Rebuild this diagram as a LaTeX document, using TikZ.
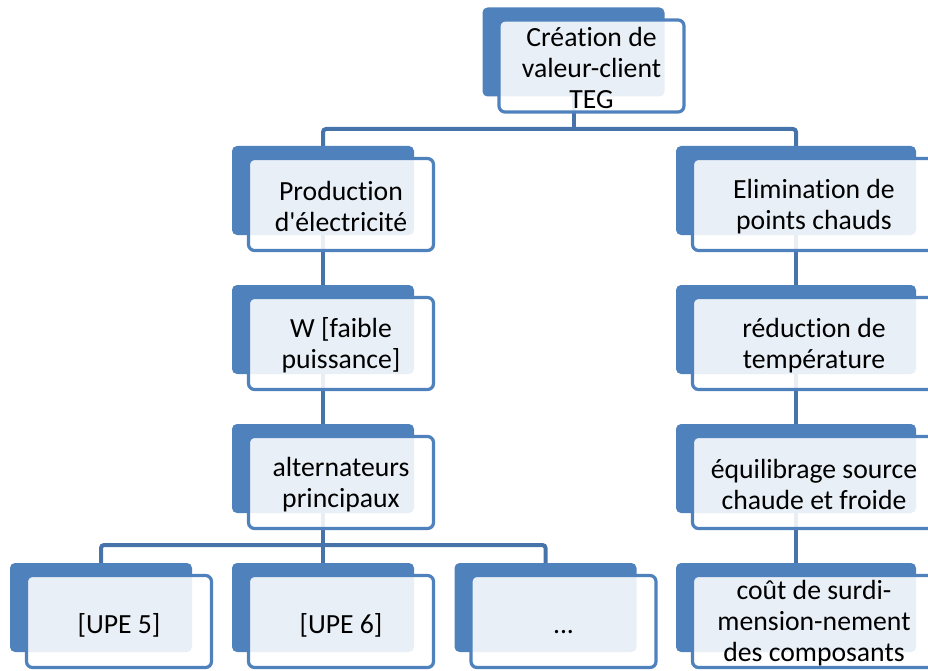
\documentclass[tikz,border=0pt]{standalone}
\usepackage{fontspec}
\setmainfont{Carlito}[Ligatures={NoCommon,TeXOff}]
\usetikzlibrary{backgrounds}
\definecolor{cblue}{HTML}{4F81BD}
\definecolor{cline}{HTML}{4674AA}
\begin{document}
\begin{tikzpicture}[x=1pt,y=-1pt,
  back/.style={fill=cblue, rounded corners=5pt, minimum width=182pt, minimum height=89pt, inner sep=0pt},
  wideback/.style={minimum width=240pt},
  front/.style={draw=cblue, line width=3.2pt, fill=white, fill opacity=0.88, rounded corners=6pt, minimum width=185pt, minimum height=92pt, inner sep=0pt},
  widefront/.style={minimum width=243pt},
  txt/.style={inner sep=0pt, align=center, yshift=-2pt, font=\fontsize{27.7}{31}\selectfont},
  onetxt/.style={txt, yshift=-4pt},
  conn/.style={draw=cline, line width=4pt}]
\useasboundingbox (0,0) rectangle (928,671);
\clip (0,0) rectangle (928,671);
% back boxes
\node[back] (b0) at (573.5,52) {};
\node[back] (bL1) at (323,190.5) {};
\node[back] (bL2) at (323,329.5) {};
\node[back] (bL3) at (323,468.5) {};
\node[back] (bU5) at (101,607.5) {};
\node[back] (bU6) at (323,607.5) {};
\node[back] (bU7) at (545.5,607.5) {};
\node[back,wideback] (bR1) at (796,190.5) {};
\node[back,wideback] (bR2) at (796,329.5) {};
\node[back,wideback] (bR3) at (796,468.5) {};
\node[back,wideback] (bR4) at (796,607.5) {};
% connectors
\begin{scope}[on background layer]
\coordinate (h1) at (573.5,129);
\coordinate (h2) at (323,545);
\draw[conn] (b0.center) -- (h1);
\draw[conn, rounded corners=3pt] (bL1.north) |- (h1) -| (bR1.north);
\draw[conn] (bL1.center) -- (bL2.center);
\draw[conn] (bL2.center) -- (bL3.center);
\draw[conn] (bL3.center) -- (h2);
\draw[conn, rounded corners=3pt] (bU5.north) |- (h2) -| (bU7.north);
\draw[conn] (h2) -- (bU6.north);
\draw[conn] (bR1.center) -- (bR2.center);
\draw[conn] (bR2.center) -- (bR3.center);
\draw[conn] (bR3.center) -- (bR4.center);
\end{scope}
% front boxes
\node[front] (f0) at (591.5,66) {};
\node[front] (fL1) at (341,204.5) {};
\node[front] (fL2) at (341,343.5) {};
\node[front] (fL3) at (341,482.5) {};
\node[front] (fU5) at (119,621.5) {};
\node[front] (fU6) at (341,621.5) {};
\node[front] (fU7) at (563.5,621.5) {};
\node[front,widefront] (fR1) at (814,204.5) {};
\node[front,widefront] (fR2) at (814,343.5) {};
\node[front,widefront] (fR3) at (814,482.5) {};
\node[front,widefront] (fR4) at (814,621.5) {};
% texts
\node[txt] (t0) at (f0.center) {Création de\\valeur-client\\TEG};
\node[txt] (tL1) at (fL1.center) {Production\\d'électricité};
\node[txt] (tL2) at (fL2.center) {W [faible\\puissance]};
\node[txt] (tL3) at (fL3.center) {alternateurs\\principaux};
\node[onetxt] (tU5) at (fU5.center) {\strut[UPE 5]};
\node[onetxt] (tU6) at (fU6.center) {\strut[UPE 6]};
\node[onetxt] (tU7) at (fU7.center) {\strut...};
\node[txt] (tR1) at (fR1.center) {Elimination de\\points chauds};
\node[txt] (tR2) at (fR2.center) {réduction de\\température};
\node[txt] (tR3) at (fR3.center) {équilibrage source\\chaude et froide};
\node[txt] (tR4) at (fR4.center) {coût de surdi-\\mension-nement\\des composants};
\end{tikzpicture}
\end{document}
